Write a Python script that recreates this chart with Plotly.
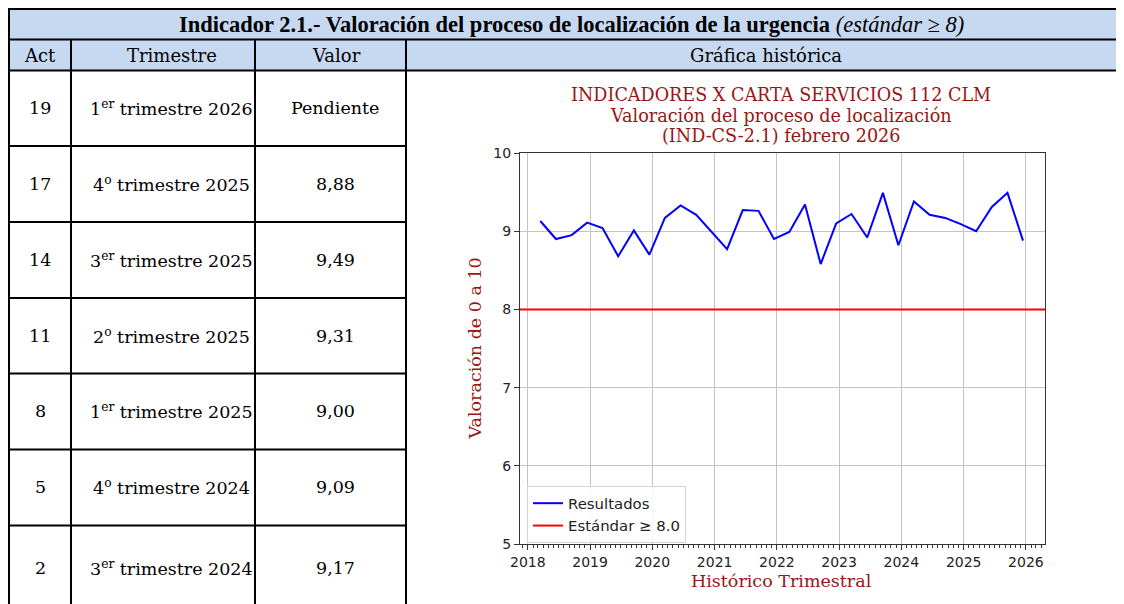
import plotly.graph_objects as go

# ---------------- data ----------------
quarter_dates = [
    "2018-03-15", "2018-06-15", "2018-09-15", "2018-12-15",
    "2019-03-15", "2019-06-15", "2019-09-15", "2019-12-15",
    "2020-03-15", "2020-06-15", "2020-09-15", "2020-12-15",
    "2021-03-15", "2021-06-15", "2021-09-15", "2021-12-15",
    "2022-03-15", "2022-06-15", "2022-09-15", "2022-12-15",
    "2023-03-15", "2023-06-15", "2023-09-15", "2023-12-15",
    "2024-03-15", "2024-06-15", "2024-09-15", "2024-12-15",
    "2025-03-15", "2025-06-15", "2025-09-15", "2025-12-15",
]
resultados = [
    9.13, 8.90, 8.95, 9.11, 9.04, 8.68, 9.01, 8.70,
    9.17, 9.33, 9.21, 8.99, 8.77, 9.27, 9.26, 8.90,
    8.99, 9.34, 8.58, 9.10, 9.22, 8.92, 9.49, 8.82,
    9.38, 9.21, 9.17, 9.09, 9.00, 9.31, 9.49, 8.88,
]
estandar = 8.0
x_limits = ["2017-11-16", "2026-04-23"]
y_limits = [5, 10]

table_title = "<b>Indicador 2.1.- Valoración del proceso de localización de la urgencia</b> <i>(estándar ≥ 8)</i>"
header_labels = ["Act", "Trimestre", "Valor", "Gráfica histórica"]
acts = ["19", "17", "14", "11", "8", "5", "2"]
trimestres = [
    "1<sup>er</sup> trimestre 2026",
    "4<sup>o</sup> trimestre 2025",
    "3<sup>er</sup> trimestre 2025",
    "2<sup>o</sup> trimestre 2025",
    "1<sup>er</sup> trimestre 2025",
    "4<sup>o</sup> trimestre 2024",
    "3<sup>er</sup> trimestre 2024",
]
valores = ["Pendiente", "8,88", "9,49", "9,31", "9,00", "9,09", "9,17"]

chart_title_lines = [
    "INDICADORES X CARTA SERVICIOS 112 CLM",
    "Valoración del proceso de localización",
    "(IND-CS-2.1) febrero 2026",
]
y_title = "Valoración de 0 a 10"
x_title = "Histórico Trimestral"

# ---------------- layout helpers ----------------
W, H = 1124, 604
PAGE_OFFSET = 8  # the page body places the figure 8 px in from the window corner
def px(x):
    return (x - PAGE_OFFSET) / W
def py(y):
    return 1 - (y - PAGE_OFFSET) / H

DARKRED = "#991515"
BLUEFILL = "#c6d9f1"
TABLE_FONT = "DejaVu Serif"

fig = go.Figure()

fig.add_trace(go.Scatter(
    x=quarter_dates, y=resultados, mode="lines", name="Resultados",
    line=dict(color="#0000ff", width=2),
))
fig.add_trace(go.Scatter(
    x=x_limits, y=[estandar, estandar], mode="lines", name="Estándar ≥ 8.0",
    line=dict(color="#ff0000", width=2),
))

shapes = []
shapes.append(dict(type="rect", xref="paper", yref="paper", x0=px(8), x1=1,
                   y0=py(8), y1=py(70), fillcolor=BLUEFILL, line=dict(width=0), layer="below"))

def hline(y, x0, x1):
    shapes.append(dict(type="line", xref="paper", yref="paper", x0=px(x0), x1=px(x1),
                       y0=py(y), y1=py(y), line=dict(color="black", width=2)))

def vline(x, y0, y1):
    shapes.append(dict(type="line", xref="paper", yref="paper", x0=px(x), x1=px(x),
                       y0=py(y0), y1=py(y1), line=dict(color="black", width=2)))

hline(9, 8, W + PAGE_OFFSET)
hline(39.5, 8, W + PAGE_OFFSET)
hline(70.5, 8, W + PAGE_OFFSET)
for yb in [146, 222, 298, 373.5, 449.5, 525.5]:
    hline(yb, 8, 406)
vline(9, 8, H + PAGE_OFFSET)
for xb in [71, 255, 406]:
    vline(xb, 39.5, H + PAGE_OFFSET)

annotations = []

def txt(x, y, s, size=17.5, color="black", family=TABLE_FONT, **kw):
    annotations.append(dict(x=px(x), y=py(y), xref="paper", yref="paper", text=s,
                            showarrow=False, xanchor="center", yanchor="middle",
                            font=dict(family=family, size=size, color=color), **kw))

txt(571, 24, table_title, size=22.5, family="Liberation Serif")
header_x = [40, 172, 336, 766]
for hx, lab in zip(header_x, header_labels):
    txt(hx, 55.5, lab, size=18)

row_y = [108, 184, 260, 336, 411, 487, 568]
for ry, a, t, v in zip(row_y, acts, trimestres, valores):
    txt(40, ry, a)
    txt(171, ry, t)
    txt(335, ry, v)

# chart texts
for ly, line in zip([95, 115.5, 136], chart_title_lines):
    txt(781, ly, line, size=17.6, color=DARKRED, family="DejaVu Serif")
txt(781, 581, x_title, size=17.5, color=DARKRED, family="DejaVu Serif")
annotations.append(dict(x=px(474), y=py(348.5), xref="paper", yref="paper", text=y_title,
                        showarrow=False, xanchor="center", yanchor="middle", textangle=-90,
                        font=dict(family="DejaVu Serif", size=17.5, color=DARKRED)))

fig.update_layout(
    width=W, height=H, autosize=False,
    margin=dict(l=0, r=0, t=0, b=0, pad=0, autoexpand=False),
    paper_bgcolor="white", plot_bgcolor="white",
    shapes=shapes, annotations=annotations,
    showlegend=True,
    legend=dict(x=px(527), y=py(486), xanchor="left", yanchor="top",
                bgcolor="rgba(255,255,255,0.85)", bordercolor="#d5d5d5", borderwidth=1,
                font=dict(family="DejaVu Sans", size=14.9, color="#222222"),
                tracegroupgap=0, itemwidth=30),
    xaxis=dict(
        domain=[px(520), px(1045)], range=x_limits, type="date", automargin=False,
        dtick="M12", tick0="2018-01-01", tickformat="%Y",
        showgrid=True, gridcolor="#c4c4c4", gridwidth=1,
        showline=True, linecolor="#333333", linewidth=1.2, mirror=True,
        ticks="outside", ticklen=5, tickcolor="#333333",
        tickfont=dict(family="DejaVu Sans", size=14, color="#222222"),
        minor=dict(dtick="M1", tick0="2018-01-01", ticks="outside", ticklen=2.5,
                   tickcolor="#333333", showgrid=False),
        zeroline=False, fixedrange=True,
    ),
    yaxis=dict(
        domain=[py(544), py(153)], range=y_limits, dtick=1, automargin=False,
        showgrid=True, gridcolor="#c4c4c4", gridwidth=1,
        showline=True, linecolor="#333333", linewidth=1.2, mirror=True,
        ticks="outside", ticklen=5, tickcolor="#333333",
        tickfont=dict(family="DejaVu Sans", size=14, color="#222222"),
        zeroline=False, fixedrange=True,
    ),
)

fig.write_html("out.html")
